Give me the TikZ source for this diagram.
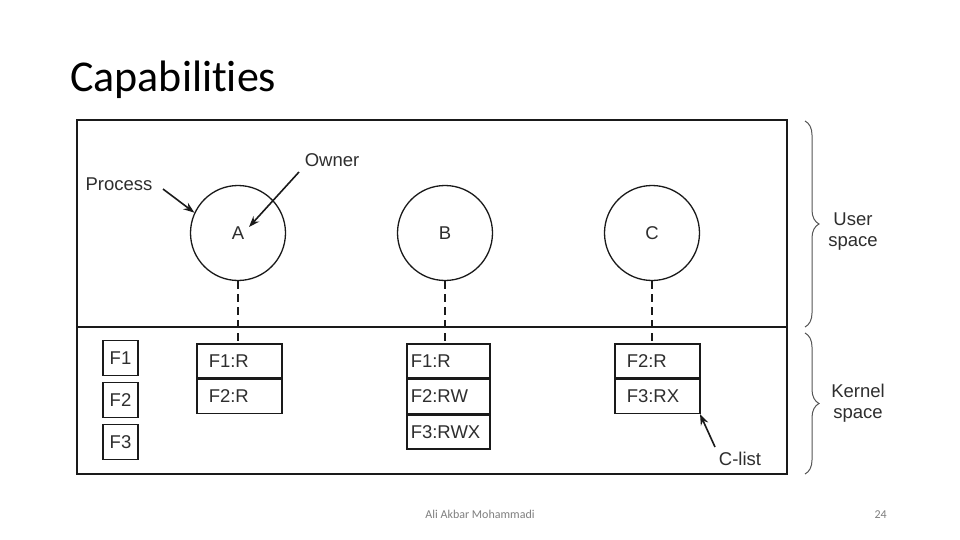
\documentclass[tikz,border=0pt]{standalone}
\usepackage{fontspec}
\setmainfont{Liberation Sans}
\newfontfamily\titlefont[Ligatures=NoCommon]{Carlito}
\usetikzlibrary{arrows.meta,decorations.pathreplacing}
\definecolor{txt}{HTML}{2E2E2E}
\definecolor{ln}{HTML}{1A1A1A}
\definecolor{brc}{HTML}{555555}
\definecolor{foot}{HTML}{7F7F7F}
\tikzset{
  diag/.style={font=\fontsize{18.5}{22}\selectfont, text=txt},
  proc/.style={circle, draw=ln, line width=1.3pt, minimum size=95pt, inner sep=0pt, diag},
  fbox/.style={rectangle, draw=ln, line width=1.5pt, minimum width=35pt, minimum height=35pt, inner sep=0pt, diag},
  rowA/.style={rectangle, draw=ln, line width=1.5pt, minimum height=34pt, inner xsep=12pt, inner ysep=0pt, text width=61pt, align=left, anchor=north west, diag},
  rowB/.style={rowA, inner xsep=4pt, text width=75pt},
  link/.style={draw=ln, line width=2pt, dash pattern=on 8pt off 5pt},
  pointer/.style={draw=ln, line width=1.6pt, -{Stealth[length=11pt,width=8pt]}},
  sbrace/.style={draw=brc, line width=1pt, decorate, decoration={brace, amplitude=14pt}},
  lbl/.style={diag, align=center, inner sep=0pt}
}
\begin{document}
\begin{tikzpicture}[x=1pt,y=-1pt]
\useasboundingbox (0,0) rectangle (960,540);
\fill[white] (0,0) rectangle (960,540);
% title
\node[anchor=base west, inner sep=0pt, font=\titlefont\fontsize{44}{50}\selectfont] (title) at (70,92) {Capabilities};
% frame
\draw[ln, line width=1.5pt] (77,120) rectangle (787,474);
\draw[ln, line width=1.3pt] (77,327) -- (787,327);
% processes
\node[proc] (A) at (238,233) {A};
\node[proc] (B) at (445,233) {B};
\node[proc] (C) at (652,233) {C};
% files
\node[fbox] (F1) at (120.5,358) {F1};
\node[fbox] (F2) at (120.5,400) {F2};
\node[fbox] (F3) at (120.5,442) {F3};
% C-lists
\node[rowA] (a1) at (196,343) {F1:R};
\node[rowA] (a2) at (a1.south west) {F2:R};
\node[rowB] (b1) at (406,343) {F1:R};
\node[rowB] (b2) at (b1.south west) {F2:RW};
\node[rowB] (b3) at (b2.south west) {F3:RWX};
\node[rowA] (c1) at (614,343) {F2:R};
\node[rowA] (c2) at (c1.south west) {F3:RX};
% dashed links
\draw[link] (A.south) -- (A.south |- a1.north);
\draw[link] (B.south) -- (B.south |- b1.north);
\draw[link] (C.south) -- (C.south |- c1.north);
% labels
\node[lbl] (proclbl) at (119,184) {Process};
\node[lbl] (ownlbl) at (332,160) {Owner};
\node[lbl] (clistlbl) at (740,459) {C-list};
\coordinate (ptail) at (163,189);
\coordinate (otail) at (299,172);
\coordinate (otip) at (249,227);
\coordinate (ctail) at (715,447);
\coordinate (ctip) at (700,414);
\draw[pointer] (ptail) -- (A.155);
\draw[pointer] (otail) -- (otip);
\draw[pointer] (ctail) -- (ctip);
% braces
\draw[sbrace] (805,121) -- (805,327);
\draw[sbrace] (805,333) -- (805,474);
\node[lbl] (user) at (853,232) {User\\[-1pt]space};
\node[lbl] (kernel) at (858,403) {Kernel\\[-1pt]space};
% footer
\node[anchor=base, inner sep=0pt, text=foot, font=\titlefont\fontsize{12}{14}\selectfont] (author) at (480,518) {Ali Akbar Mohammadi};
\node[anchor=base east, inner sep=0pt, text=foot, font=\titlefont\fontsize{12}{14}\selectfont] (page) at (887,518) {24};
\end{tikzpicture}
\end{document}
